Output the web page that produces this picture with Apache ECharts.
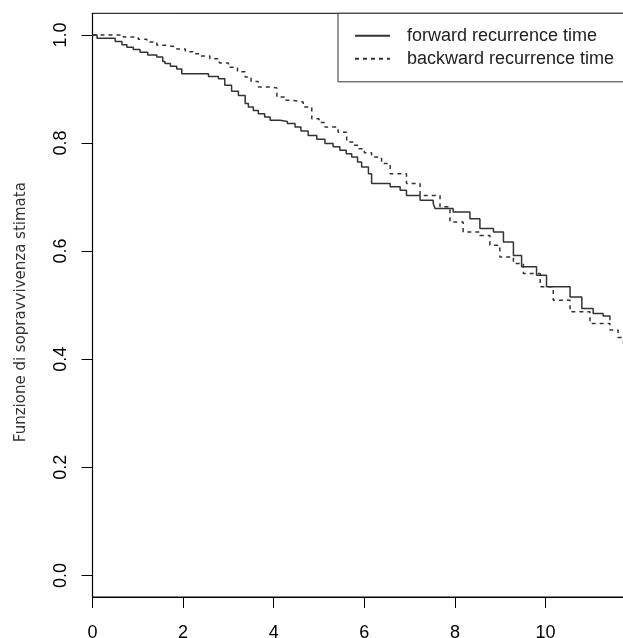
<!DOCTYPE html>
<html>
<head>
<meta charset="utf-8">
<script src="https://cdn.jsdelivr.net/npm/echarts@6/dist/echarts.min.js"></script>
<style>
  html, body { margin: 0; padding: 0; background: #fff; }
  #chart { width: 623px; height: 638px; }
</style>
</head>
<body>
<div id="chart"></div>
<script>
// stime di sopravvivenza (Kaplan-Meier)
const forwardTime = [0, 0.1, 0.5, 0.65, 0.76, 0.9, 1.05, 1.22, 1.42, 1.55, 1.6, 1.72, 1.86, 1.97, 2.56, 2.78, 2.92, 3.07, 3.22, 3.37, 3.44, 3.55, 3.66, 3.8, 3.92, 4.14, 4.3, 4.47, 4.6, 4.76, 4.95, 5.13, 5.31, 5.46, 5.6, 5.72, 5.85, 5.94, 6.09, 6.16, 6.57, 6.79, 6.93, 7.23, 7.52, 7.56, 7.96, 8.33, 8.55, 8.85, 9.07, 9.29, 9.47, 9.8, 10.02, 10.54, 10.8, 11.05, 11.27, 11.42]
const forwardSurv = [1, 0.994, 0.988, 0.982, 0.977, 0.973, 0.968, 0.963, 0.959, 0.951, 0.947, 0.942, 0.937, 0.928, 0.923, 0.919, 0.907, 0.896, 0.888, 0.873, 0.8666, 0.86, 0.854, 0.848, 0.842, 0.84, 0.836, 0.8296, 0.822, 0.814, 0.807, 0.799, 0.793, 0.7865, 0.78, 0.774, 0.765, 0.7556, 0.743, 0.725, 0.719, 0.7126, 0.703, 0.694, 0.688, 0.679, 0.6725, 0.66, 0.642, 0.6355, 0.617, 0.592, 0.571, 0.5555, 0.534, 0.515, 0.494, 0.4847, 0.4797, 0.472]
const backwardTime = [0, 0.68, 1.01, 1.2, 1.42, 1.6, 1.86, 2.05, 2.22, 2.4, 2.59, 2.8, 3.0, 3.2, 3.37, 3.5, 3.66, 3.88, 4.07, 4.25, 4.4, 4.65, 4.84, 5.0, 5.13, 5.42, 5.61, 5.75, 5.87, 6.0, 6.16, 6.38, 6.57, 6.93, 7.23, 7.67, 7.89, 8.18, 8.55, 8.77, 8.99, 9.29, 9.51, 9.88, 10.17, 10.54, 10.98, 11.42, 11.6, 11.72]
const backwardSurv = [1, 0.996, 0.992, 0.987, 0.981, 0.978, 0.974, 0.969, 0.965, 0.961, 0.956, 0.948, 0.94, 0.932, 0.922, 0.914, 0.9035, 0.902, 0.885, 0.879, 0.876, 0.8666, 0.845, 0.838, 0.8296, 0.82, 0.802, 0.796, 0.7896, 0.782, 0.774, 0.762, 0.743, 0.725, 0.703, 0.682, 0.654, 0.6355, 0.629, 0.611, 0.589, 0.577, 0.5586, 0.534, 0.509, 0.4876, 0.466, 0.454, 0.44, 0.423]
const xTicks = [0, 2, 4, 6, 8, 10, 12]
const yTicks = [0, 0.2, 0.4, 0.6, 0.8, 1]
const seriesNames = ['forward recurrence time', 'backward recurrence time']

const chart = echarts.init(document.getElementById('chart'))

const pairs = (xs, ys) => xs.map((x, i) => [x, ys[i]])

const option = {
  backgroundColor: '#fff',
  animation: false,
  grid: {
    left: 92.5,
    top: 13.3,
    right: -26.8,
    bottom: 41,
    show: true,
    borderColor: '#000',
    borderWidth: 1,
    containLabel: false,
    outerBoundsMode: 'none'
  },
  legend: {
    orient: 'vertical',
    left: 338,
    top: 13.3,
    padding: [13.5, 40, 14, 16],
    itemWidth: 35,
    itemHeight: 14,
    itemGap: 5,
    borderColor: '#333',
    borderWidth: 1,
    backgroundColor: '#fff',
    itemStyle: { opacity: 0 },
    textStyle: {
      fontFamily: 'Liberation Sans',
      fontSize: 18,
      color: '#222',
      padding: [0, 0, 0, 12]
    },
    data: seriesNames
  },
  xAxis: {
    type: 'value',
    min: 0,
    max: 12.3,
    splitLine: { show: false },
    axisLine: { show: true, onZero: false, lineStyle: { color: '#000', width: 1.2 } },
    axisTick: { show: true, length: 11, lineStyle: { color: '#000' }, customValues: xTicks },
    axisLabel: {
      customValues: xTicks,
      margin: 27,
      fontFamily: 'Liberation Sans',
      fontSize: 18,
      color: '#000'
    }
  },
  yAxis: {
    type: 'value',
    min: -0.04,
    max: 1.04,
    name: 'Funzione di sopravvivenza stimata',
    nameLocation: 'middle',
    nameGap: 64,
    nameTextStyle: { fontFamily: 'DejaVu Sans', fontSize: 15, color: '#333', padding: [0, 14, 0, 0] },
    splitLine: { show: false },
    axisLine: { show: true, onZero: false, lineStyle: { color: '#000', width: 1.2 } },
    axisTick: { show: true, length: 11, lineStyle: { color: '#000' }, customValues: yTicks },
    axisLabel: {
      customValues: yTicks,
      rotate: 90,
      margin: 22,
      fontFamily: 'Liberation Sans',
      fontSize: 18,
      color: '#000',
      formatter: (v) => v.toFixed(1)
    }
  },
  series: [
    {
      name: seriesNames[0],
      type: 'line',
      step: 'end',
      symbol: 'none',
      data: pairs(forwardTime, forwardSurv),
      lineStyle: { color: '#333', width: 1.5, type: 'solid' },
      itemStyle: { color: '#333' }
    },
    {
      name: seriesNames[1],
      type: 'line',
      step: 'end',
      symbol: 'none',
      data: pairs(backwardTime, backwardSurv),
      lineStyle: { color: '#333', width: 1.5, type: [4, 4] },
      itemStyle: { color: '#333' }
    }
  ]
}

chart.setOption(option)
</script>
</body>
</html>
